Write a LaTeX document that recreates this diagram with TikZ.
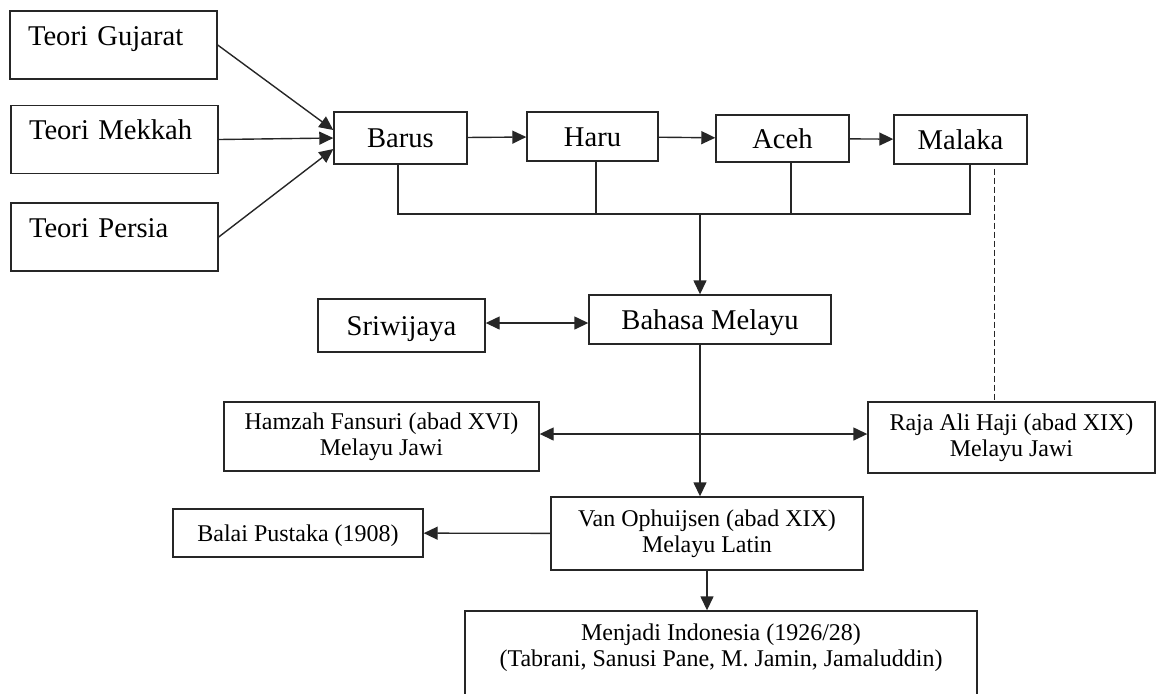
\documentclass[tikz,border=0pt]{standalone}
\usepackage{fontspec}
\setmainfont{Liberation Serif}
\usetikzlibrary{arrows.meta}

\begin{document}
\begin{tikzpicture}[x=0.5pt,y=-0.5pt,line width=0.7pt,
  >={Triangle[length=7pt,width=6.5pt]},
  big/.style={draw=frame,inner sep=0pt,font=\fontsize{14.3}{16}\selectfont,
    text height=9.5pt,text depth=0pt},
  teori/.style={draw=frame,inner xsep=9pt,inner ysep=0pt,text width=85.5pt,
    align=left,font=\fontsize{14.3}{16}\selectfont,
    text height=17pt,text depth=17pt},
  small/.style={draw=frame,inner sep=0pt,align=center,
    font=\fontsize{12}{13}\selectfont}]
  \colorlet{frame}{black!85}
  \useasboundingbox (0,0) rectangle (1157,693);

  \node[teori] (gujarat) at (113.5,45) {Teori Gujarat};
  \node[teori] (mekkah) at (114.5,139.5) {Teori Mekkah};
  \node[teori] (persia) at (114.5,237) {Teori Persia};

  \node[big,minimum width=66.5pt,minimum height=26pt] (barus) at (400.5,138) {Barus};
  \node[big,minimum width=65.5pt,minimum height=24.5pt] (haru) at (592.5,136.5) {Haru};
  \node[big,minimum width=66.5pt,minimum height=23.5pt] (aceh) at (782.5,138.5) {Aceh};
  \node[big,minimum width=66.5pt,minimum height=24.5pt] (malaka) at (960.5,139.5) {Malaka};

  \node[big,minimum width=83.5pt,minimum height=26.5pt] (sriwijaya) at (401.5,325.5) {Sriwijaya};
  \node[big,minimum width=121pt,minimum height=24.5pt] (bahasa) at (710,319.5) {Bahasa Melayu};

  \node[small,minimum width=157.5pt,minimum height=34.5pt] (hamzah) at (381.5,436.5)
    {Hamzah Fansuri (abad XVI)\\Melayu Jawi};
  \node[small,minimum width=143.5pt,minimum height=35.5pt] (raja) at (1011.5,437.5)
    {Raja Ali Haji (abad XIX)\\Melayu Jawi};
  \node[small,minimum width=156pt,minimum height=36.5pt] (van) at (707,533.5)
    {Van Ophuijsen (abad XIX)\\Melayu Latin};
  \node[small,minimum width=125pt,minimum height=24pt,text height=8pt,text depth=0pt] (balai) at (298,533)
    {Balai Pustaka (1908)};
  \node[small,minimum width=256pt,text height=27.5pt,text depth=15.5pt] (menjadi) at (721,654)
    {Menjadi Indonesia (1926/28)\\(Tabrani, Sanusi Pane, M. Jamin, Jamaluddin)};

  \begin{scope}[frame]
  \draw[->] (gujarat.east) -- ([yshift=4pt]barus.west);
  \draw[->] (mekkah.east) -- (barus.west);
  \draw[->] (persia.east) -- ([yshift=-5.5pt]barus.west);
  \draw[->] (barus) -- (haru);
  \draw[->] (haru) -- (aceh);
  \draw[->] (aceh) -- (malaka);

  \coordinate (bus) at (700,214);
  \draw ([xshift=-1.25pt]barus.south) |- (bus) -| ([xshift=4.75pt]malaka.south);
  \draw ([xshift=1.75pt]haru.south) -- ([xshift=1.75pt]haru.south |- bus);
  \draw ([xshift=4.25pt]aceh.south) -- ([xshift=4.25pt]aceh.south |- bus);
  \draw[->] (bus) -- (bus |- bahasa.north);
  \draw[line width=0.5pt,dash pattern=on 3pt off 1.5pt]
    ([xshift=16.75pt,yshift=-2pt]malaka.south) -- ([xshift=16.75pt]malaka.south |- raja.north);

  \draw[<->] ([yshift=1.25pt]sriwijaya.east) -- ([yshift=1.25pt]sriwijaya.east -| bahasa.west);
  \draw[->] (bus |- bahasa.south) -- (bus |- van.north);
  \draw[<->] ([yshift=1.25pt]hamzah.east) -- ([yshift=1.25pt]hamzah.east -| raja.west);
  \draw[->] (van) -- (balai);
  \draw[->] (van.south) -- (van.south |- menjadi.north);
  \end{scope}
\end{tikzpicture}
\end{document}
